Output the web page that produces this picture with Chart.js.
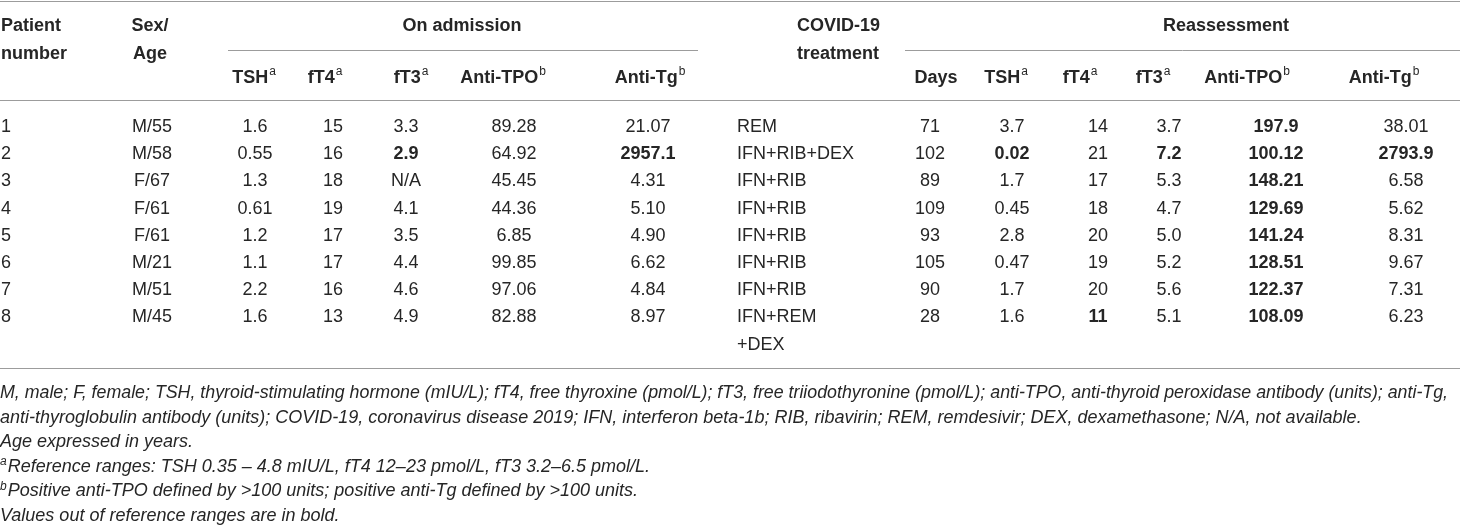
<!DOCTYPE html>
<html>
<head>
<meta charset="utf-8">
<title>Thyroid function in COVID-19 patients</title>
<script src="https://cdn.jsdelivr.net/npm/chart.js@4.4.1/dist/chart.umd.min.js"></script>
<style>
  html, body { margin: 0; padding: 0; background: #fff; }
  #wrap { width: 1460px; height: 530px; }
</style>
</head>
<body>
<div id="wrap"><canvas id="table" width="1460" height="530"></canvas></div>
<script>
// table values, one array per column
const patients  = ['1', '2', '3', '4', '5', '6', '7', '8'];
const sexAge    = ['M/55', 'M/58', 'F/67', 'F/61', 'F/61', 'M/21', 'M/51', 'M/45'];
const admTSH    = ['1.6', '0.55', '1.3', '0.61', '1.2', '1.1', '2.2', '1.6'];
const admFT4    = ['15', '16', '18', '19', '17', '17', '16', '13'];
const admFT3    = ['3.3', '2.9', 'N/A', '4.1', '3.5', '4.4', '4.6', '4.9'];
const admTPO    = ['89.28', '64.92', '45.45', '44.36', '6.85', '99.85', '97.06', '82.88'];
const admTg     = ['21.07', '2957.1', '4.31', '5.10', '4.90', '6.62', '4.84', '8.97'];
const treatment = ['REM', 'IFN+RIB+DEX', 'IFN+RIB', 'IFN+RIB', 'IFN+RIB', 'IFN+RIB', 'IFN+RIB', 'IFN+REM\n+DEX'];
const days      = ['71', '102', '89', '109', '93', '105', '90', '28'];
const reTSH     = ['3.7', '0.02', '1.7', '0.45', '2.8', '0.47', '1.7', '1.6'];
const reFT4     = ['14', '21', '17', '18', '20', '19', '20', '11'];
const reFT3     = ['3.7', '7.2', '5.3', '4.7', '5.0', '5.2', '5.6', '5.1'];
const reTPO     = ['197.9', '100.12', '148.21', '129.69', '141.24', '128.51', '122.37', '108.09'];
const reTg      = ['38.01', '2793.9', '6.58', '5.62', '8.31', '9.67', '7.31', '6.23'];

// values out of reference range (row index per column)
const boldAdmFT3 = [1];
const boldAdmTg  = [1];
const boldReTSH  = [1];
const boldReFT4  = [7];
const boldReFT3  = [1];
const boldReTPO  = [0, 1, 2, 3, 4, 5, 6, 7];
const boldReTg   = [1];

const groupHeaders = ['On admission', 'Reassessment'];
const footnotes = [
    ['', 'M, male; F, female; TSH, thyroid-stimulating hormone (mIU/L); fT4, free thyroxine (pmol/L); fT3, free triiodothyronine (pmol/L); anti-TPO, anti-thyroid peroxidase antibody (units); anti-Tg,'],
    ['', 'anti-thyroglobulin antibody (units); COVID-19, coronavirus disease 2019; IFN, interferon beta-1b; RIB, ribavirin; REM, remdesivir; DEX, dexamethasone; N/A, not available.'],
    ['', 'Age expressed in years.'],
    ['a', 'Reference ranges: TSH 0.35 \u2013 4.8 mIU/L, fT4 12\u201323 pmol/L, fT3 3.2\u20136.5 pmol/L.'],
    ['b', 'Positive anti-TPO defined by >100 units; positive anti-Tg defined by >100 units.'],
    ['', 'Values out of reference ranges are in bold.']
];

// layout: x = data position, hx = header position
const columns = [
    { head: ['Patient', 'number'], values: patients, bold: [], x: 1, hx: 1, align: 'left' },
    { head: ['Sex/', 'Age'], values: sexAge, bold: [], x: 152, hx: 150, align: 'center' },
    { head: ['TSH'], sup: 'a', values: admTSH, bold: [], x: 255, hx: 254, align: 'center' },
    { head: ['fT4'], sup: 'a', values: admFT4, bold: [], x: 333, hx: 325, align: 'center' },
    { head: ['fT3'], sup: 'a', values: admFT3, bold: boldAdmFT3, x: 406, hx: 411, align: 'center' },
    { head: ['Anti-TPO'], sup: 'b', values: admTPO, bold: [], x: 514, hx: 503, align: 'center' },
    { head: ['Anti-Tg'], sup: 'b', values: admTg, bold: boldAdmTg, x: 648, hx: 650, align: 'center' },
    { head: ['COVID-19', 'treatment'], values: treatment, bold: [], x: 737, hx: 797, align: 'left' },
    { head: ['Days'], values: days, bold: [], x: 930, hx: 936, align: 'center' },
    { head: ['TSH'], sup: 'a', values: reTSH, bold: boldReTSH, x: 1012, hx: 1006, align: 'center' },
    { head: ['fT4'], sup: 'a', values: reFT4, bold: boldReFT4, x: 1098, hx: 1080, align: 'center' },
    { head: ['fT3'], sup: 'a', values: reFT3, bold: boldReFT3, x: 1169, hx: 1153, align: 'center' },
    { head: ['Anti-TPO'], sup: 'b', values: reTPO, bold: boldReTPO, x: 1276, hx: 1247, align: 'center' },
    { head: ['Anti-Tg'], sup: 'b', values: reTg, bold: boldReTg, x: 1406, hx: 1384, align: 'center' }
];

const W = 1460, H = 530;
const rowTop = 127, rowStep = 27.2;
const FONT = "'Liberation Sans', Arial, sans-serif";
const textColor = '#262626';
const ruleColor = '#9c9c9c';

const datasets = columns.map(col => ({
    label: col.head.join(' '),
    data: col.values.map((v, i) => ({ x: col.x, y: i + 1, text: v, bold: col.bold.includes(i) })),
    align: col.align,
    pointRadius: 0,
    showLine: false
}));

function rule(ctx, x1, x2, y) {
    ctx.beginPath();
    ctx.moveTo(x1, y);
    ctx.lineTo(x2, y);
    ctx.stroke();
}

// header text with optional superscript, centred on cx (or left from cx)
function headText(ctx, text, sup, cx, y, align) {
    ctx.font = 'bold 18px ' + FONT;
    const w = ctx.measureText(text).width;
    let sw = 0;
    if (sup) {
        ctx.font = '12px ' + FONT;
        sw = ctx.measureText(sup).width + 1;
    }
    const left = align === 'left' ? cx : cx - (w + sw) / 2;
    ctx.textAlign = 'left';
    ctx.font = 'bold 18px ' + FONT;
    ctx.fillText(text, left, y);
    if (sup) {
        ctx.font = '12px ' + FONT;
        ctx.fillText(sup, left + w + 1, y - 6);
    }
}

const tablePlugin = {
    id: 'tableText',
    afterDatasetsDraw(chart) {
        const ctx = chart.ctx;
        const yScale = chart.scales.y;
        const step = yScale.getPixelForValue(2) - yScale.getPixelForValue(1);
        ctx.save();
        ctx.fillStyle = textColor;
        ctx.textBaseline = 'middle';

        // rules
        ctx.strokeStyle = ruleColor;
        ctx.lineWidth = 1;
        rule(ctx, 0, W, 1.5);
        rule(ctx, 228, 698, 50.5);
        rule(ctx, 905, W, 50.5);
        rule(ctx, 0, W, 100.5);
        rule(ctx, 0, W, 368.5);

        // headers
        columns.forEach(col => {
            if (col.head.length === 2) {
                headText(ctx, col.head[0], null, col.hx, 26, col.align);
                headText(ctx, col.head[1], null, col.hx, 54, col.align);
            } else {
                headText(ctx, col.head[0], col.sup, col.hx, 78, col.align);
            }
        });
        headText(ctx, groupHeaders[0], null, 462, 26, 'center');
        headText(ctx, groupHeaders[1], null, 1226, 26, 'center');

        // cells
        chart.data.datasets.forEach((ds, di) => {
            const meta = chart.getDatasetMeta(di);
            meta.data.forEach((pt, i) => {
                const cell = ds.data[i];
                ctx.font = (cell.bold ? 'bold ' : '') + '18px ' + FONT;
                ctx.textAlign = ds.align;
                cell.text.split('\n').forEach((ln, k) => {
                    ctx.fillText(ln, pt.x, pt.y + k * step);
                });
            });
        });

        // footnotes
        ctx.textAlign = 'left';
        footnotes.forEach((fn, k) => {
            const y = 393 + k * 24.6;
            let x = 0;
            if (fn[0]) {
                ctx.font = 'italic 12px ' + FONT;
                ctx.fillText(fn[0], 0, y - 5);
                x = ctx.measureText(fn[0]).width + 1;
            }
            ctx.font = 'italic 18px ' + FONT;
            ctx.fillText(fn[1], x, y, W - 12 - x);
        });
        ctx.restore();
    }
};

const yMin = 1 - rowTop / rowStep;
new Chart(document.getElementById('table'), {
    type: 'scatter',
    data: { datasets: datasets },
    options: {
        responsive: false,
        animation: false,
        events: [],
        layout: { padding: 0 },
        plugins: { legend: { display: false }, tooltip: { enabled: false } },
        scales: {
            x: { type: 'linear', min: 0, max: W, display: false },
            y: { type: 'linear', reverse: true, min: yMin, max: yMin + H / rowStep, display: false }
        }
    },
    plugins: [tablePlugin]
});
</script>
</body>
</html>
